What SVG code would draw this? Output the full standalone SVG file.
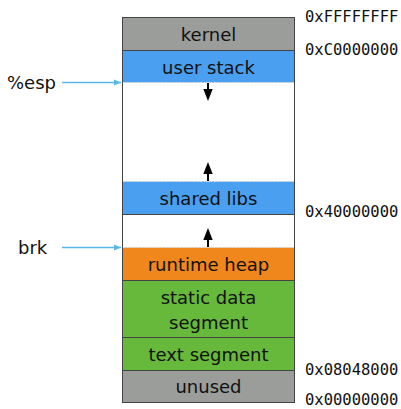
<svg xmlns="http://www.w3.org/2000/svg" width="401" height="409" viewBox="0 0 401 409">
<style>
.seg{stroke:#444;stroke-width:1}
.gray{fill:#9b9d9b}
.blue{fill:#4a9ff0}
.orange{fill:#f0871c}
.green{fill:#66b93a}
.lbl{font-family:"DejaVu Sans","Open Sans",sans-serif;font-size:18px;fill:#111;text-anchor:middle}
.side{font-family:"DejaVu Sans","Open Sans",sans-serif;font-size:18px;fill:#111}
.addr{font-family:"DejaVu Sans Mono","Liberation Mono",monospace;font-size:15.5px;fill:#111}
.dot{stroke:#d8d8d8;stroke-width:1.2;stroke-dasharray:2,1.5}
.ptr{stroke:#5ab8e4;stroke-width:1.5;fill:none}
.grow{stroke:#000;stroke-width:2;fill:none}
</style>
<defs>
<marker id="bluehead" markerWidth="8" markerHeight="8" refX="7" refY="4" orient="auto" markerUnits="userSpaceOnUse">
<path d="M0,1 L7,4 L0,7 Z" fill="#5ab8e4"/>
</marker>
</defs>
<rect x="0" y="0" width="401" height="409" fill="#fff"/>
<g id="memory-box">
<rect x="122.5" y="17.5" width="172" height="385" fill="#fff" stroke="#444"/>
</g>
<g id="kernel">
<rect class="seg gray" x="122.5" y="17.5" width="172" height="33"/>
<text class="lbl" x="208.5" y="40.5">kernel</text>
</g>
<g id="user-stack">
<rect class="blue" x="122.5" y="50.5" width="172" height="32"/>
<line x1="122.5" y1="50.5" x2="294.5" y2="50.5" stroke="#444"/>
<line class="dot" x1="123" y1="82.5" x2="294" y2="82.5"/>
<text class="lbl" x="208.5" y="73.5">user stack</text>
</g>
<g id="shared-libs">
<rect class="blue" x="122.5" y="181.5" width="172" height="33"/>
<line x1="122.5" y1="214.5" x2="294.5" y2="214.5" stroke="#444"/>
<line class="dot" x1="123" y1="181.5" x2="294" y2="181.5"/>
<text class="lbl" x="208.5" y="205">shared libs</text>
</g>
<g id="runtime-heap">
<rect class="orange" x="122.5" y="247.5" width="172" height="33"/>
<line x1="122.5" y1="280.5" x2="294.5" y2="280.5" stroke="#444"/>
<line class="dot" x1="123" y1="247.5" x2="294" y2="247.5"/>
<text class="lbl" x="208.5" y="271">runtime heap</text>
</g>
<g id="static-data">
<rect class="seg green" x="122.5" y="280.5" width="172" height="57"/>
<text class="lbl" x="208.5" y="303.5">static data</text>
<text class="lbl" x="208.5" y="328.5">segment</text>
</g>
<g id="text-segment">
<rect class="seg green" x="122.5" y="337.5" width="172" height="33"/>
<text class="lbl" x="208.5" y="360.5">text segment</text>
</g>
<g id="unused">
<rect class="seg gray" x="122.5" y="370.5" width="172" height="32"/>
<text class="lbl" x="208.5" y="393">unused</text>
</g>
<g id="outline">
<rect x="122.5" y="17.5" width="172" height="385" fill="none" stroke="#444"/>
</g>
<g id="connectors">
<line class="grow" x1="208" y1="83" x2="208" y2="91"/>
<path d="M203.3,89 L212.7,89 L208,101 Z" fill="#000"/>
<line class="grow" x1="208" y1="181" x2="208" y2="172"/>
<path d="M203.3,174 L212.7,174 L208,162 Z" fill="#000"/>
<line class="grow" x1="208" y1="247" x2="208" y2="238"/>
<path d="M203.3,240 L212.7,240 L208,228 Z" fill="#000"/>
<line class="ptr" x1="62" y1="82.5" x2="121" y2="82.5" marker-end="url(#bluehead)"/>
<line class="ptr" x1="62" y1="247.5" x2="121" y2="247.5" marker-end="url(#bluehead)"/>
</g>
<g id="labels">
<text class="side" x="7" y="89">%esp</text>
<text class="side" x="18" y="254">brk</text>
<text class="addr" x="305" y="22">0xFFFFFFFF</text>
<text class="addr" x="305" y="55">0xC0000000</text>
<text class="addr" x="305" y="217">0x40000000</text>
<text class="addr" x="305" y="375">0x08048000</text>
<text class="addr" x="305" y="405">0x00000000</text>
</g>
</svg>
